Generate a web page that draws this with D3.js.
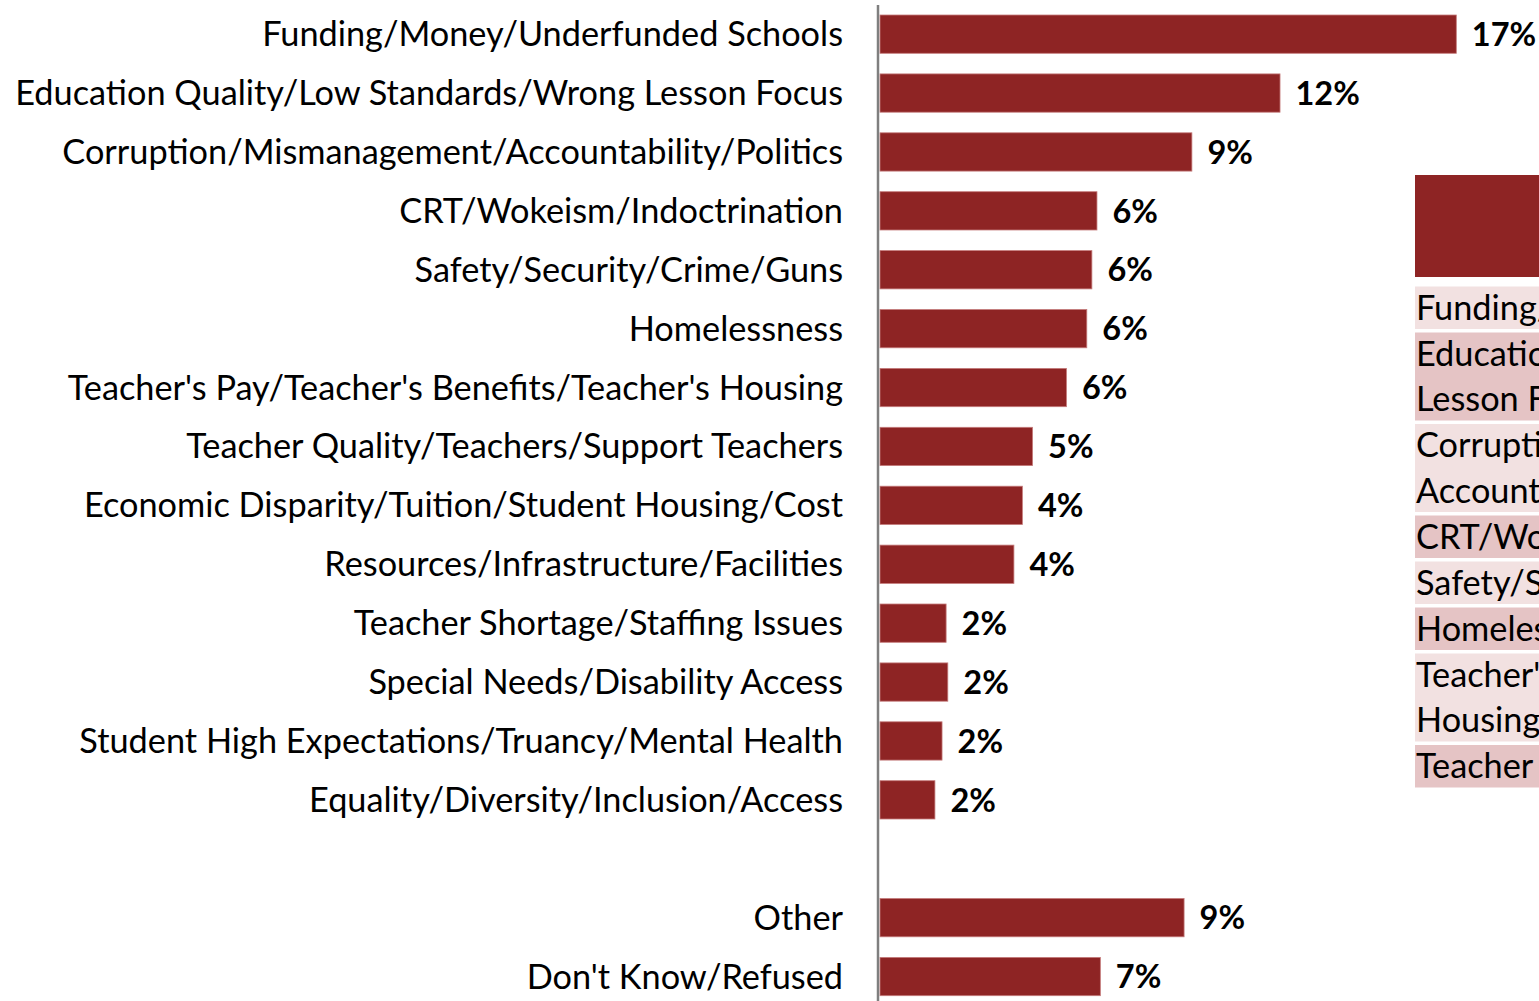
<!DOCTYPE html>
<html>
<head>
<meta charset="utf-8">
<script src="https://cdn.jsdelivr.net/npm/d3@7"></script>
<style>
html,body{margin:0;padding:0;background:#fff;overflow:hidden;}
svg{display:block;}
text{font-family:Lato,"Open Sans",sans-serif;}
</style>
</head>
<body>
<svg id="chart" width="1539" height="1001"></svg>
<script>
const categories = [
  "Funding/Money/Underfunded Schools",
  "Education Quality/Low Standards/Wrong Lesson Focus",
  "Corruption/Mismanagement/Accountability/Politics",
  "CRT/Wokeism/Indoctrination",
  "Safety/Security/Crime/Guns",
  "Homelessness",
  "Teacher's Pay/Teacher's Benefits/Teacher's Housing",
  "Teacher Quality/Teachers/Support Teachers",
  "Economic Disparity/Tuition/Student Housing/Cost",
  "Resources/Infrastructure/Facilities",
  "Teacher Shortage/Staffing Issues",
  "Special Needs/Disability Access",
  "Student High Expectations/Truancy/Mental Health",
  "Equality/Diversity/Inclusion/Access",
  "Other",
  "Don't Know/Refused"
];
const values = [17.0, 11.8, 9.2, 6.4, 6.25, 6.1, 5.5, 4.5, 4.2, 3.95, 1.95, 2.0, 1.83, 1.62, 8.97, 6.5];
const valueLabels = ["17%","12%","9%","6%","6%","6%","6%","5%","4%","4%","2%","2%","2%","2%","9%","7%"];
const gapAfter = 13; // empty slot after "Equality/..."

// partially visible table on the right (rows wrapped as in the picture)
const tableRows = [
  ["Funding/Money/Underfunded Schools"],
  ["Education Quality/Low Standards/Wrong", "Lesson Focus"],
  ["Corruption/Mismanagement/", "Accountability/Politics"],
  ["CRT/Wokeism/Indoctrination"],
  ["Safety/Security/Crime/Guns"],
  ["Homelessness"],
  ["Teacher's Pay/Teacher's Benefits/Teacher's", "Housing"],
  ["Teacher Quality/Teachers/Support Teachers"]
];

const BAR = "#8e2424";
const svg = d3.select("#chart");

const slots = [];
categories.forEach((c, i) => { slots.push(c); if (i === gapAfter) slots.push("__gap__"); });

const y = d3.scaleBand().domain(slots).range([4.7, 4.7 + 17 * 58.9]).paddingInner(0.35).paddingOuter(0.175);
const x = d3.scaleLinear().domain([0, 20]).range([880, 880 + 20 * 33.9]);

const data = categories.map((c, i) => ({c, v: values[i], l: valueLabels[i]}));

// bars
svg.append("g").selectAll("rect").data(data).join("rect")
  .attr("x", x(0))
  .attr("y", d => y(d.c))
  .attr("width", d => x(d.v) - x(0))
  .attr("height", y.bandwidth())
  .attr("fill", BAR)
  .attr("stroke", "#c47a7a")
  .attr("stroke-width", 0.8);

// category axis (labels only)
const yAxis = d3.axisLeft(y).tickSize(0).tickPadding(0).tickFormat(d => d === "__gap__" ? "" : d);
const ag = svg.append("g").attr("transform", "translate(843,0)").call(yAxis);
ag.select(".domain").remove();
ag.selectAll("text").attr("font-size", 34.3).attr("fill", "#000").attr("dy", "0.35em");

// axis line
svg.append("line").attr("x1", 878).attr("x2", 878).attr("y1", 5).attr("y2", 1001)
  .attr("stroke", "#7f7f7f").attr("stroke-width", 2.5);

// value labels
svg.append("g").selectAll("text").data(data).join("text")
  .attr("x", d => x(d.v) + 15.5)
  .attr("y", d => y(d.c) + y.bandwidth() / 2)
  .attr("dy", "0.36em")
  .attr("font-size", 32.5)
  .attr("font-weight", 700)
  .attr("fill", "#000")
  .text(d => d.l);

// table on right
const tx = 1415;
svg.append("rect").attr("x", tx).attr("y", 175).attr("width", 200).attr("height", 102).attr("fill", BAR);
const lineH = 45.5;
let ty = 286.5;
tableRows.forEach((lines, i) => {
  const h = lines.length * lineH - 3;
  svg.append("rect").attr("x", tx).attr("y", ty).attr("width", 200).attr("height", h)
    .attr("fill", i % 2 === 0 ? "#f2e1e1" : "#e5c4c5");
  lines.forEach((t, j) => {
    svg.append("text").attr("x", tx + 1).attr("y", ty + j * lineH + lineH / 2 - 1.5)
      .attr("dy", "0.35em").attr("font-size", 34.3).attr("fill", "#000").text(t);
  });
  ty += h + 3.5;
});
</script>
</body>
</html>
